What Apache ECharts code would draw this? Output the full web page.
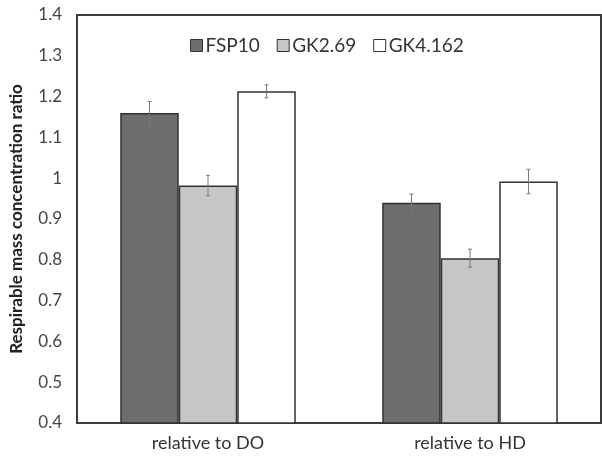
<!DOCTYPE html>
<html>
<head>
<meta charset="UTF-8">
<title>Respirable mass concentration ratio</title>
<script src="https://cdn.jsdelivr.net/npm/echarts@6/dist/echarts.min.js"></script>
</head>
<body style="margin:0;background:#fff;">
<div id="chart" style="width:602px;height:459px;"></div>
<script>
    const categories = ['relative to DO', 'relative to HD'];
    const seriesNames = ['FSP10', 'GK2.69', 'GK4.162'];
    const fsp10 = [1.16, 0.94];
    const gk269 = [0.982, 0.804];
    const gk4162 = [1.213, 0.992];
    const fsp10Err = [0.028, 0.021];
    const gk269Err = [0.025, 0.022];
    const gk4162Err = [0.016, 0.03];

    const values = [fsp10, gk269, gk4162];
    const errors = [fsp10Err, gk269Err, gk4162Err];
    const colors = ['#6d6d6d', '#c6c6c6', '#ffffff'];
    const gapRatio = 0.33;
    const font = 'Lato';

    let chart = echarts.init(document.getElementById('chart'));

    let series = [];
    seriesNames.forEach((name, i) => {
        series.push({
            name: name,
            type: 'bar',
            data: values[i],
            barGap: 0,
            barCategoryGap: '33%',
            itemStyle: {color: colors[i], borderColor: '#333', borderWidth: 1.5},
            z: 2
        });
    });

    // error bars drawn on top of each bar
    seriesNames.forEach((name, i) => {
        series.push({
            type: 'custom',
            name: name + ' err',
            data: categories.map((c, k) => [k, values[i][k], errors[i][k]]),
            z: 5,
            renderItem: function (params, api) {
                let k = api.value(0);
                let v = api.value(1);
                let e = api.value(2);
                let band = api.size([1, 0])[0];
                let bw = band * (1 - gapRatio) / 3;
                let hi = api.coord([k, v + e]);
                let lo = api.coord([k, v - e]);
                let x = hi[0] + (i - 1) * bw;
                let style = {stroke: '#7a7a7a', lineWidth: 1};
                return {
                    type: 'group',
                    children: [
                        {type: 'line', shape: {x1: x, y1: hi[1], x2: x, y2: lo[1]}, style},
                        {type: 'line', shape: {x1: x - 2, y1: hi[1], x2: x + 2, y2: hi[1]}, style},
                        {type: 'line', shape: {x1: x - 2, y1: lo[1], x2: x + 2, y2: lo[1]}, style}
                    ]
                };
            }
        });
    });

    let option = {
        animation: false,
        textStyle: {fontFamily: font},
        grid: {
            left: 70, right: 1, top: 15, bottom: 36,
            show: true, borderColor: '#3c3c3c', borderWidth: 2
        },
        legend: {
            data: seriesNames,
            left: 185,
            top: 31,
            itemWidth: 12,
            itemHeight: 12,
            itemGap: 17,
            icon: 'rect',
            textStyle: {fontFamily: font, fontSize: 19, color: '#333', padding: [0, 0, 0, -2]},
            itemStyle: {borderColor: '#333', borderWidth: 1}
        },
        xAxis: {
            type: 'category',
            data: categories,
            axisLine: {show: false},
            axisTick: {show: false},
            axisLabel: {fontFamily: font, fontSize: 18, color: '#333', margin: 11}
        },
        yAxis: {
            type: 'value',
            min: 0.4,
            max: 1.4,
            interval: 0.1,
            name: 'Respirable mass concentration ratio',
            nameLocation: 'middle',
            nameGap: 52,
            nameTextStyle: {fontFamily: font, fontSize: 17, color: '#222', fontWeight: 'bold'},
            axisLine: {show: false},
            axisTick: {show: false},
            splitLine: {show: false},
            axisLabel: {fontFamily: font, fontSize: 17, color: '#444', margin: 15}
        },
        series
    };

    chart.setOption(option);
</script>
</body>
</html>
